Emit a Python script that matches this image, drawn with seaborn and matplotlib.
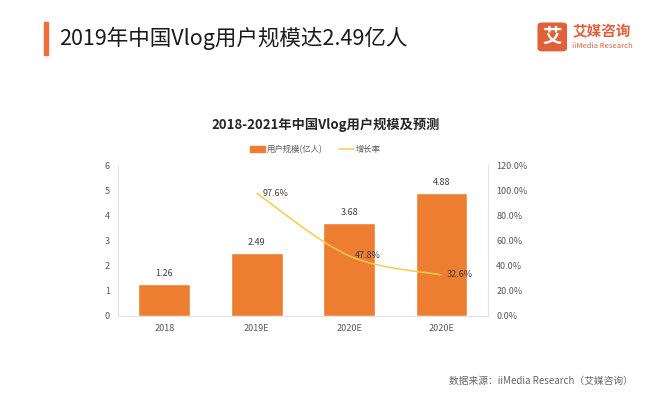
import numpy as np
import pandas as pd
import matplotlib
matplotlib.use("Agg")
import matplotlib.pyplot as plt
from matplotlib.path import Path
from matplotlib.patches import PathPatch, FancyBboxPatch
from matplotlib.lines import Line2D
from matplotlib.ticker import PercentFormatter
import seaborn as sns

# data
years = ["2018", "2019E", "2020E", "2020E "]
users = [1.26, 2.49, 3.68, 4.88]          # 用户规模(亿人)
growth = [np.nan, 97.6, 47.8, 32.6]       # 增长率 %
year_ticks = ["2018", "2019E", "2020E", "2020E"]

sns.set_theme(style="white")
plt.rcParams['font.family'] = ['Noto Sans CJK SC', 'DejaVu Sans']

bar_color = "#ED7D31"
line_color = "#F9CB4A"
tick_color = "#595959"

fig = plt.figure(figsize=(6.71, 3.93), dpi=100)
ax = fig.add_axes([0.176, 0.196, 0.551, 0.384])

df = pd.DataFrame({"year": years, "users": users, "growth": growth})
sns.barplot(data=df, x="year", y="users", color=bar_color, width=0.56,
            saturation=1, ax=ax)
ax.set_xlim(-0.5, 3.5)
ax.set_ylim(0, 6)
ax.set_yticks(range(0, 7))
ax.set_xticks(range(4))
ax.set_xticklabels(year_ticks)
ax.set_xlabel("")
ax.set_ylabel("")
ax.tick_params(axis="both", labelsize=6.5, colors=tick_color, length=0, pad=6)
for s in ["top", "right"]:
    ax.spines[s].set_visible(False)
for s in ["left", "bottom"]:
    ax.spines[s].set_color("#E3E3E3")
    ax.spines[s].set_linewidth(0.8)

for i, v in enumerate(users):
    ax.text(i, v + 0.25, f"{v:.2f}", ha="center", va="bottom",
            fontsize=6.5, color="#404040")

# right axis: growth rate, smoothed like the original
ax2 = ax.twinx()
ax2.set_ylim(0, 120)
ax2.set_yticks(range(0, 121, 20))
ax2.yaxis.set_major_formatter(PercentFormatter(decimals=1))
ax2.tick_params(axis="y", labelsize=6.5, colors=tick_color, length=0, pad=6)
for s in ["top", "left", "bottom"]:
    ax2.spines[s].set_visible(False)
ax2.spines["right"].set_color("#E3E3E3")
ax2.spines["right"].set_linewidth(0.8)
ax2.grid(False)

gx = np.array([1, 2, 3], dtype=float)
gy = np.array(growth[1:], dtype=float)
# Catmull-Rom -> cubic bezier control points
verts = [(gx[0], gy[0])]
codes = [Path.MOVETO]
px = np.concatenate([[gx[0]], gx, [gx[-1]]])
py = np.concatenate([[gy[0]], gy, [gy[-1]]])
for k in range(1, len(px) - 2):
    c1 = (px[k] + (px[k + 1] - px[k - 1]) / 6, py[k] + (py[k + 1] - py[k - 1]) / 6)
    c2 = (px[k + 1] - (px[k + 2] - px[k]) / 6, py[k + 1] - (py[k + 2] - py[k]) / 6)
    verts += [c1, c2, (px[k + 1], py[k + 1])]
    codes += [Path.CURVE4] * 3
ax2.add_patch(PathPatch(Path(verts, codes), facecolor="none",
                        edgecolor=line_color, lw=1.1))
for x, y in zip(gx, gy):
    ax2.text(x + 0.06, y, f"{y:.1f}%", ha="left", va="center",
             fontsize=6.5, color="#404040")

# legend
handles = [plt.Rectangle((0, 0), 1, 1, color=bar_color),
           Line2D([0], [0], color=line_color, lw=1.1)]
fig.legend(handles, ["用户规模(亿人)", "增长率"], loc="center",
           bbox_to_anchor=(0.47, 0.62), ncol=2, frameon=False,
           fontsize=6, handlelength=1.8, handleheight=0.6,
           columnspacing=2.0, handletextpad=0.2, labelcolor="#595959")

# chart title
fig.text(0.485, 0.682, "2018-2021年中国Vlog用户规模及预测", ha="center",
         va="center", fontsize=9.5, fontweight="bold", color="#262626")

# header
fig.patches.append(plt.Rectangle((0.066, 0.86), 0.006, 0.083,
                                 transform=fig.transFigure, color="#F26B3A"))
fig.text(0.088, 0.902, "2019年中国Vlog用户规模达2.49亿人", ha="left",
         va="center", fontsize=15.5, color="#1a1a1a")

# logo
fig.patches.append(FancyBboxPatch((0.802, 0.871), 0.042, 0.07,
                                  boxstyle="round,pad=0,rounding_size=0.006",
                                  transform=fig.transFigure, color="#E0603A"))
fig.text(0.823, 0.906, "艾", ha="center", va="center", fontsize=14,
         fontweight="bold", color="white")
fig.text(0.853, 0.92, "艾媒咨询", ha="left", va="center", fontsize=10.5,
         fontweight="bold", color="#E0603A")
fig.text(0.853, 0.883, "iiMedia Research", ha="left", va="center",
         fontsize=5.5, color="#E0603A")

# source
fig.text(0.943, 0.032, "数据来源：iiMedia Research（艾媒咨询）", ha="right",
         va="center", fontsize=7, color="#666666")

fig.savefig("out.png", dpi=100)
